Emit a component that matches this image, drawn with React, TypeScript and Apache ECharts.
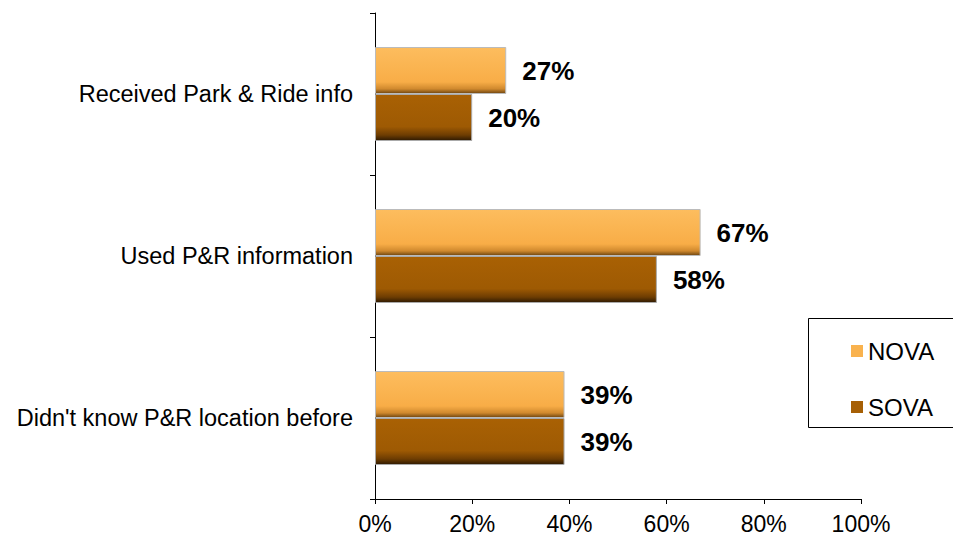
import React, { useEffect, useRef } from "react";
import * as echarts from "echarts";

const categories = ["Received Park & Ride info", "Used P&R information", "Didn't know P&R location before"];
const novaValues = [27, 67, 39];
const sovaValues = [20, 58, 39];
const xTicks = [0, 20, 40, 60, 80, 100];

const FONT = "'Liberation Sans', Arial, sans-serif";

export default function App() {
  const ref = useRef<HTMLDivElement>(null);
  useEffect(() => {
    if (!ref.current) return;
    const chart = echarts.init(ref.current, null, { renderer: "svg" });
    const novaGrad = new echarts.graphic.LinearGradient(0, 0, 0, 1, [
      { offset: 0, color: "#FDBD5E" },
      { offset: 0.75, color: "#F8AD47" },
      { offset: 0.9, color: "#D0892E" },
      { offset: 1, color: "#6E4510" },
    ]);
    const sovaGrad = new echarts.graphic.LinearGradient(0, 0, 0, 1, [
      { offset: 0, color: "#A96104" },
      { offset: 0.7, color: "#9E5A03" },
      { offset: 0.88, color: "#6E3D02" },
      { offset: 1, color: "#2E1A02" },
    ]);
    const labelStyle = {
      show: true,
      position: "right" as const,
      distance: 16,
      formatter: "{c}%",
      fontSize: 26,
      fontWeight: "bold" as const,
      color: "#000",
      fontFamily: FONT,
    };
    chart.setOption({
      animation: false,
      textStyle: { fontFamily: FONT },
      grid: { left: 375, right: 92, top: 13, bottom: 41, containLabel: false },
      xAxis: {
        type: "value",
        min: xTicks[0],
        max: xTicks[xTicks.length - 1],
        interval: 20,
        splitLine: { show: false },
        axisLine: { show: true, lineStyle: { color: "#000", width: 1 } },
        axisTick: { show: true, length: 5, lineStyle: { color: "#000" } },
        axisLabel: { formatter: "{value}%", fontSize: 23, color: "#000", margin: 13, fontFamily: FONT },
      },
      yAxis: {
        type: "category",
        data: categories,
        inverse: true,
        axisLine: { show: true, lineStyle: { color: "#000", width: 1 } },
        axisTick: { show: true, length: 5, lineStyle: { color: "#000" } },
        axisLabel: { fontSize: 23.5, color: "#000", margin: 22, fontFamily: FONT },
      },
      legend: {
        orient: "vertical",
        left: 846,
        top: 332,
        itemWidth: 12,
        itemHeight: 12,
        itemGap: 28,
        icon: "rect",
        itemStyle: { borderWidth: 0 },
        textStyle: { fontSize: 24, color: "#000", fontFamily: FONT, lineHeight: 28 },
        data: [
          { name: "NOVA", itemStyle: { color: "#F9B24E", borderWidth: 0 } },
          { name: "SOVA", itemStyle: { color: "#A65F05", borderWidth: 0 } },
        ],
      },
      graphic: [
        {
          type: "rect",
          shape: { x: 808.5, y: 318.5, width: 160, height: 109 },
          style: { fill: "none", stroke: "#000", lineWidth: 1 },
          z: 0,
        },
      ],
      series: [
        {
          name: "NOVA",
          type: "bar",
          data: novaValues,
          barWidth: 47,
          barGap: "0%",
          itemStyle: { color: novaGrad, borderColor: "#BBBBBB", borderWidth: 1 },
          label: labelStyle,
        },
        {
          name: "SOVA",
          type: "bar",
          data: sovaValues,
          barWidth: 47,
          barGap: "0%",
          itemStyle: { color: sovaGrad, borderColor: "#AAAAAA", borderWidth: 1 },
          label: labelStyle,
        },
      ],
    });
    return () => chart.dispose();
  }, []);
  return <div ref={ref} style={{ width: 953, height: 540, position: "absolute", left: 0, top: 0 }} />;
}
